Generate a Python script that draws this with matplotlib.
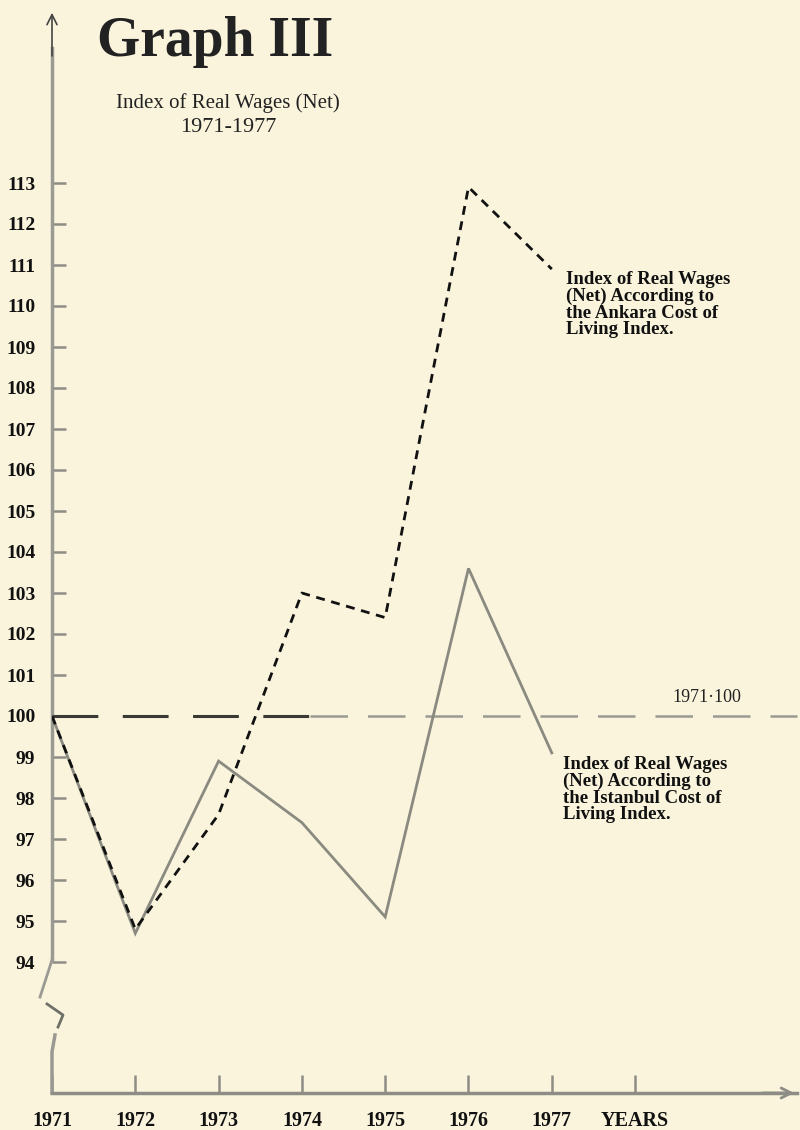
import matplotlib
matplotlib.use("Agg")
import matplotlib.pyplot as plt

# ---- data ----
years = [1971, 1972, 1973, 1974, 1975, 1976, 1977]
ankara = [100.0, 94.8, 97.6, 103.0, 102.4, 112.9, 110.9]
istanbul = [100.0, 94.7, 98.9, 97.4, 95.1, 103.6, 99.1]
base_value = 100
y_ticks = list(range(94, 114))
x_tick_pos = [1971, 1972, 1973, 1974, 1975, 1976, 1977, 1978]
x_tick_labels = ["1971", "1972", "1973", "1974", "1975", "1976", "1977", "YEARS"]

BG = "#FAF4DD"
SERIF = ["Liberation Serif", "DejaVu Serif"]

fig = plt.figure(figsize=(8, 11.3), dpi=100, facecolor=BG)
W, H = 800, 1130
x0_px, axis_px, top_px, right_px = 52, 1093, 10, 797
ax = fig.add_axes([x0_px / W, (H - axis_px) / H, (right_px - x0_px) / W, (axis_px - top_px) / H])
ax.set_facecolor(BG)
px_per_year = 83.3
px_per_unit = 41.0
y100_px = 716
ax.set_xlim(1971, 1971 + (right_px - x0_px) / px_per_year)
ax.set_ylim(100 - (axis_px - y100_px) / px_per_unit, 100 + (y100_px - top_px) / px_per_unit)

for s in ["top", "right", "left"]:
    ax.spines[s].set_visible(False)
ax.spines["bottom"].set_color("#8d8d85")
ax.spines["bottom"].set_linewidth(2.5)

# y-axis with break (decorative)
axc = "#9a9a92"
ax.plot([0, 0], [0.1228, 0.965], transform=ax.transAxes, color=axc, lw=2.5, clip_on=False)
ax.plot([0, -0.0161], [0.1228, 0.0886], transform=ax.transAxes, color=axc, lw=2, clip_on=False)
ax.plot([-0.0067, 0.0148, 0.0081], [0.0822, 0.0720, 0.0609], transform=ax.transAxes,
        color="#707068", lw=2, clip_on=False)
ax.plot([0.004, 0, 0], [0.0536, 0.0379, 0], transform=ax.transAxes, color=axc, lw=2.5, clip_on=False)
ax.annotate("", xy=(0, 1.0), xytext=(0, 0.955), xycoords="axes fraction",
            arrowprops=dict(arrowstyle="->", color="#444", lw=1.2, mutation_scale=18))
ax.annotate("", xy=(1.0, 0), xytext=(0.95, 0), xycoords="axes fraction",
            arrowprops=dict(arrowstyle="->", color="#8d8d85", lw=2, mutation_scale=18))

ax.set_yticks(y_ticks)
ax.set_yticklabels([str(v) for v in y_ticks], fontfamily=SERIF, fontweight="bold", fontsize=14, color="#111")
ax.tick_params(axis="y", direction="in", length=10, width=1.8, color="#8d8d85", pad=12)
ax.set_xticks(x_tick_pos)
ax.set_xticklabels(x_tick_labels, fontfamily=SERIF, fontweight="bold", fontsize=14.5, color="#111")
ax.tick_params(axis="x", direction="in", length=13, width=1.8, color="#8d8d85", pad=13)

# base line 100
split = 1974.1
ax.plot([1971, split], [base_value, base_value], color="#3a3a35", lw=2.2,
        dashes=(15, 8), clip_on=False)
ax.plot([split, ax.get_xlim()[1]], [base_value, base_value], color="#9a9a92", lw=1.8,
        dashes=(15, 8), clip_on=False)

# series
ax.plot(years, istanbul, color="#8a8a80", lw=2.0, solid_joinstyle="miter")
ax.plot(years, ankara, color="#111", lw=2.0, dashes=(3.2, 2.4))

# texts
fig.text(97 / W, 1 - 42 / H, "Graph III", fontfamily=SERIF, fontweight="bold", fontsize=40,
         color="#222", va="center", ha="left")
fig.text(228 / W, 1 - 103 / H, "Index of Real Wages (Net)", fontfamily=SERIF, fontsize=15,
         color="#222", va="center", ha="center")
fig.text(228 / W, 1 - 128 / H, "1971-1977", fontfamily=SERIF, fontsize=16,
         color="#222", va="center", ha="center")
fig.text(707 / W, 1 - 698 / H, "1971·100", fontfamily=SERIF, fontsize=13,
         color="#222", va="center", ha="center")
fig.text(566 / W, 1 - 271 / H,
         "Index of Real Wages\n(Net) According to\nthe Ankara Cost of\nLiving Index.",
         fontfamily=SERIF, fontweight="bold", fontsize=13.5, linespacing=0.97,
         color="#111", va="top", ha="left")
fig.text(563 / W, 1 - 756 / H,
         "Index of Real Wages\n(Net) According to\nthe Istanbul Cost of\nLiving Index.",
         fontfamily=SERIF, fontweight="bold", fontsize=13.5, linespacing=0.97,
         color="#111", va="top", ha="left")

fig.savefig("out.png", dpi=100, facecolor=BG)
